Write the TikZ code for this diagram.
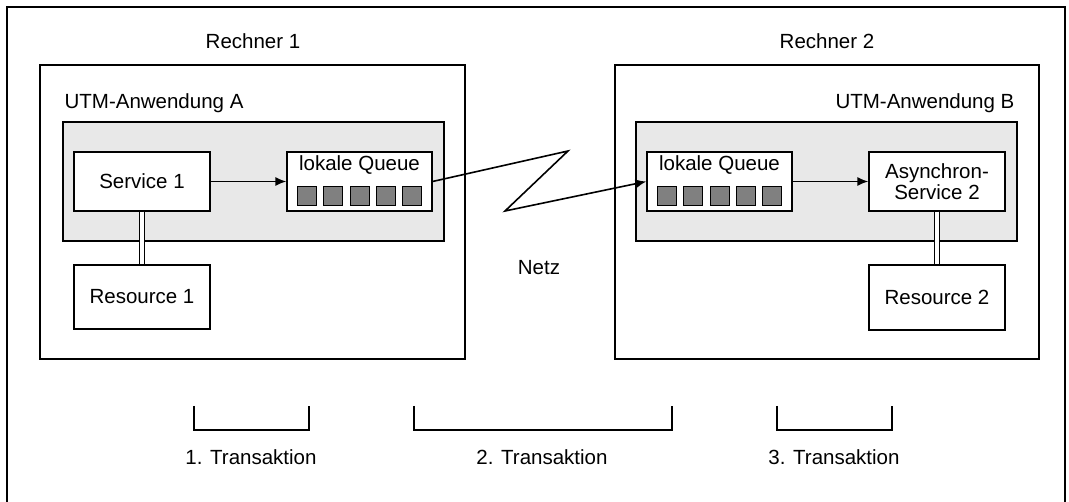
\documentclass[tikz,border=0pt]{standalone}
\usepackage{fontspec}
\setmainfont{Liberation Sans}
\usetikzlibrary{positioning,arrows.meta}

\begin{document}
\begin{tikzpicture}
  [x=1pt,y=-1pt,line width=1.2pt,
   every node/.style={font=\fontsize{20.5}{21}\selectfont,inner sep=0pt},
   box/.style={draw,fill=white,minimum width=136pt,minimum height=59pt,align=center},
   qbox/.style={draw,fill=white,minimum width=145pt,minimum height=59pt},
   slot/.style={draw,fill=gray,minimum size=19pt,line width=.6pt},
   host/.style={draw},
   app/.style={draw,fill=gray!18},
   link/.style={double,double distance=4pt,line width=1pt},
   flow/.style={line width=1.6pt,-{Latex[length=11pt,width=9pt]}}]
  \useasboundingbox (0,0) rectangle (1069,502);
  \draw[line width=1.6pt] (7,502) -- (7,7) -- (1065,7) -- (1065,502);

  % Rechner 1
  \node (h1) at (253,41) {Rechner 1};
  \draw[host] (40,65) rectangle (465,359);
  \node[anchor=west] (appA) at (64,103) {UTM-Anwendung A};
  \draw[app] (63,122) rectangle (444,241);
  \node[box] (s1) at (142,181.5) {Service 1};
  \node[box,minimum height=64pt] (r1) at (142,297) {Resource 1};
  \node[qbox] (qa) at (359.5,181.5) {};
  \node[anchor=north] (qaL) at ([yshift=-4pt]qa.north) {lokale Queue};
  \foreach \i in {-2,...,2}
    \node[slot] (qa\i) at ([xshift=\i*26.3pt,yshift=-14pt]qa.center) {};

  % Rechner 2
  \node (h2) at (827,41) {Rechner 2};
  \draw[host] (615,65) rectangle (1039,359);
  \node[anchor=east] (appB) at (1015,103) {UTM-Anwendung B};
  \draw[app] (636,122) rectangle (1017,241);
  \node[qbox] (qb) at (719.5,181.5) {};
  \node[anchor=north] (qbL) at ([yshift=-4pt]qb.north) {lokale Queue};
  \foreach \i in {-2,...,2}
    \node[slot] (qb\i) at ([xshift=\i*26.3pt,yshift=-14pt]qb.center) {};
  \node[box] (s2) at (937,181.5) {Asynchron-\\Service 2};
  \node[box,minimum height=65pt] (r2) at (937,297.5) {Resource 2};

  % Netz
  \node (net) at (539,268) {Netz};
  \coordinate (z1) at (568,151);
  \coordinate (z2) at (505,211);

  \draw[flow] (s1) -- (qa);
  \draw[flow] (qb) -- (s2);
  \draw[flow] (qa.east) -- (z1) -- (z2) -- (qb.west);
  \draw[link] (s1) -- (r1);
  \draw[link] (s2) -- (r2);

  % Transaktionen
  \draw (194,406) |- (309,430) -- (309,406);
  \draw (414,406) |- (672,430) -- (672,406);
  \draw (777,406) |- (892,430) -- (892,406);
  \node (t1) at (251,457) {1. Transaktion};
  \node (t2) at (542,457) {2. Transaktion};
  \node (t3) at (834,457) {3. Transaktion};
\end{tikzpicture}
\end{document}
